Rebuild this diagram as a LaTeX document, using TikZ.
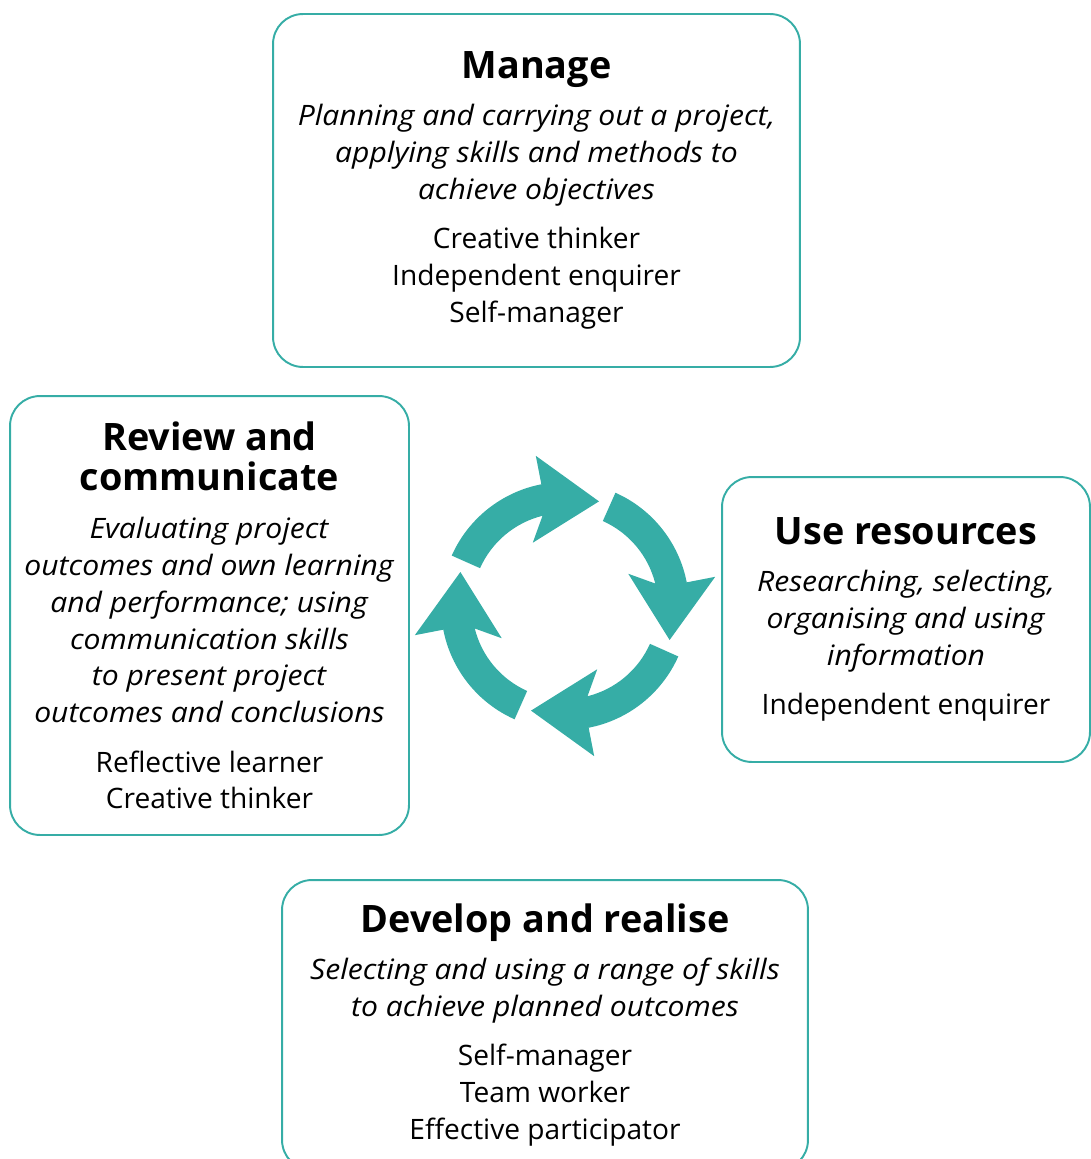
\documentclass[tikz,border=0pt]{standalone}
\usepackage{fontspec}
\setmainfont{Open Sans}[ItalicFeatures={FakeStretch=1.07}]
\definecolor{verde}{HTML}{36ADA6}
\newcommand\titulo[1]{{\fontsize{21.5}{23}\selectfont\bfseries #1}}

\begin{document}
\begin{tikzpicture}[x=0.02cm, y=0.02cm,
    caja/.style={draw=verde, line width=1.1pt, rounded corners=17pt, align=center,
      inner sep=0pt, font=\fontsize{16}{21}\selectfont},
  ]
  \useasboundingbox (0,0) rectangle (1091,-1159);

  % Etapas
  \node[caja, minimum width=10.54cm, minimum height=7.06cm] (manage) at (536.5,-190.5) {%
    \titulo{Manage}\\[6pt]
    \textit{Planning and carrying out a project,}\\
    \textit{applying skills and methods to}\\
    \textit{achieve objectives}\\[7pt]
    Creative thinker\\
    Independent enquirer\\
    Self-manager};

  \node[caja, minimum width=7.98cm, minimum height=8.78cm] (review) at (209.5,-615.5) {%
    \titulo{Review and}\\[2pt]
    \titulo{communicate}\\[6pt]
    \textit{Evaluating project}\\
    \textit{outcomes and own learning}\\
    \textit{and performance; using}\\
    \textit{communication skills}\\
    \textit{to present project}\\
    \textit{outcomes and conclusions}\\[7pt]
    Reflective learner\\
    Creative thinker};

  \node[caja, minimum width=7.36cm, minimum height=5.7cm] (resources) at (906,-619.5) {%
    \titulo{Use resources}\\[6pt]
    \textit{Researching, selecting,}\\
    \textit{organising and using}\\
    \textit{information}\\[7pt]
    Independent enquirer};

  \node[caja, minimum width=10.52cm, minimum height=5.8cm] (develop) at (545,-1025) {%
    \titulo{Develop and realise}\\[6pt]
    \textit{Selecting and using a range of skills}\\
    \textit{to achieve planned outcomes}\\[7pt]
    Self-manager\\
    Team worker\\
    Effective participator};

  % Flechas del ciclo
  \begin{scope}[shift={(565,-606)}]
    \foreach \giro in {0,-90,-180,-270} {
      \fill[verde, rotate=\giro] (156:124) arc[start angle=156, end angle=101, radius=124]
        -- (101:153) -- (72:110) -- (117:71) -- (104:93)
        arc[start angle=104, end angle=156, radius=93] -- cycle;
    }
  \end{scope}

\end{tikzpicture}
\end{document}
